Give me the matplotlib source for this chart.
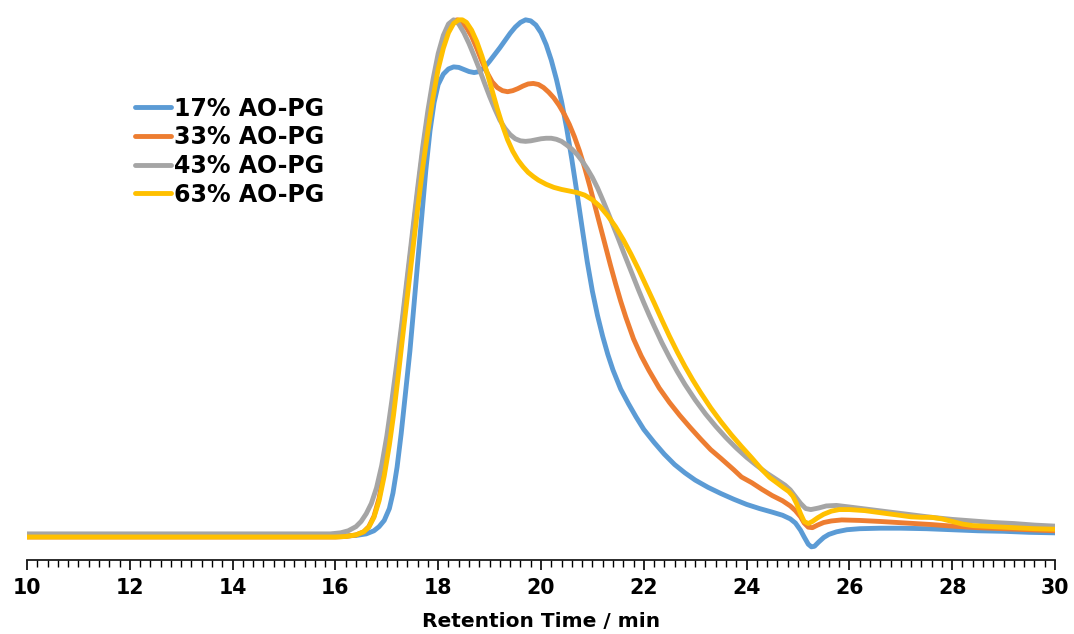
import matplotlib
matplotlib.use("Agg")
import matplotlib.pyplot as plt
from matplotlib.ticker import MultipleLocator

plt.rcParams['font.family'] = ['DejaVu Sans']

# Retention time (min) and normalised detector response for each sample
t_17 = [10, 16.2, 16.4, 16.6, 16.75, 16.85, 16.95, 17.05, 17.12, 17.2, 17.28, 17.36,
        17.45, 17.53, 17.6, 17.68, 17.76, 17.84, 17.92, 18.0, 18.1, 18.2, 18.3, 18.4,
        18.5, 18.6, 18.7, 18.8, 18.9, 19.0, 19.1, 19.2, 19.3, 19.4, 19.5, 19.6, 19.7,
        19.8, 19.9, 20.0, 20.1, 20.2, 20.3, 20.4, 20.5, 20.6, 20.7, 20.8, 20.9, 21.0,
        21.1, 21.2, 21.3, 21.4, 21.55, 21.7, 21.85, 22.0, 22.2, 22.4, 22.6, 22.8,
        23.0, 23.25, 23.5, 23.75, 24.0, 24.25, 24.5, 24.7, 24.85, 24.95, 25.05, 25.12,
        25.2, 25.26, 25.32, 25.4, 25.5, 25.6, 25.75, 25.95, 26.2, 26.6, 27.0, 27.5,
        28.0, 28.5, 29.0, 29.5, 30.0]
y_17 = [0.2, 0.2, 0.3, 0.6, 1.2, 2.0, 3.2, 5.5, 8.5, 13.5, 20.0, 27.5,
        36.0, 45.0, 53.0, 62.0, 71.0, 78.5, 84.0, 87.5, 89.5, 90.5, 90.9, 90.8,
        90.4, 90.0, 89.8, 90.0, 90.8, 92.0, 93.3, 94.6, 96.0, 97.4, 98.6, 99.5, 100.0,
        99.8, 99.0, 97.5, 95.2, 92.2, 88.5, 84.2, 79.0, 73.0, 66.5, 59.8, 53.2, 47.5,
        42.8, 38.8, 35.3, 32.3, 28.6, 25.8, 23.2, 20.8, 18.3, 16.0, 14.0, 12.4,
        11.0, 9.6, 8.4, 7.3, 6.3, 5.5, 4.8, 4.2, 3.5, 2.7, 1.3, 0.0,
        -1.4, -1.9, -1.8, -1.0, -0.1, 0.5, 1.0, 1.4, 1.6, 1.7, 1.7, 1.6,
        1.4, 1.2, 1.1, 0.9, 0.8]

t_33 = [10, 16.0, 16.2, 16.4, 16.55, 16.65, 16.75, 16.85, 16.95, 17.05, 17.13, 17.22,
        17.3, 17.4, 17.5, 17.6, 17.7, 17.8, 17.9, 18.0, 18.1, 18.2, 18.3, 18.37,
        18.45, 18.55, 18.65, 18.75, 18.85, 18.95, 19.05, 19.15, 19.25, 19.35, 19.45,
        19.55, 19.65, 19.75, 19.85, 19.95, 20.05, 20.15, 20.25, 20.35, 20.45, 20.55,
        20.65, 20.75, 20.85, 20.95, 21.05, 21.15, 21.25, 21.35, 21.45, 21.55, 21.65,
        21.8, 21.95, 22.1, 22.3, 22.5, 22.7, 22.9, 23.1, 23.3, 23.5, 23.75, 23.9,
        24.1, 24.3, 24.5, 24.7, 24.85, 24.95, 25.05, 25.12, 25.2, 25.28, 25.38, 25.5,
        25.65, 25.85, 26.2, 26.6, 27.1, 27.6, 28.0, 28.5, 29.0, 29.5, 30.0]
y_33 = [0.0, 0.0, 0.1, 0.4, 1.0, 2.0, 4.0, 7.5, 13.0, 20.0, 26.5, 34.0,
        41.0, 49.5, 58.0, 66.5, 74.5, 81.5, 87.5, 92.5, 96.0, 98.5, 99.8, 100.0,
        99.6, 98.5, 96.8, 94.5, 92.0, 89.8, 88.0, 86.9, 86.3, 86.1, 86.3,
        86.7, 87.2, 87.6, 87.7, 87.5, 86.9, 86.0, 84.9, 83.5, 81.8, 79.8,
        77.4, 74.6, 71.4, 67.8, 64.0, 60.2, 56.4, 52.6, 49.0, 45.6, 42.5,
        38.3, 35.0, 32.2, 28.8, 26.0, 23.5, 21.2, 19.0, 16.9, 15.2, 13.0, 11.6,
        10.5, 9.2, 8.0, 7.0, 6.0, 5.1, 3.9, 2.7, 1.9, 1.8, 2.3, 2.8,
        3.1, 3.3, 3.2, 3.0, 2.7, 2.4, 2.1, 1.8, 1.6, 1.4, 1.2]

t_43 = [10, 15.9, 16.1, 16.25, 16.4, 16.5, 16.6, 16.7, 16.8, 16.9, 17.0, 17.1, 17.2,
        17.3, 17.4, 17.5, 17.6, 17.7, 17.8, 17.9, 18.0, 18.1, 18.2, 18.3, 18.4, 18.5,
        18.6, 18.7, 18.8, 18.9, 19.0, 19.1, 19.2, 19.3, 19.4, 19.5, 19.6, 19.7, 19.8,
        19.9, 20.0, 20.1, 20.2, 20.3, 20.4, 20.5, 20.6, 20.7, 20.8, 20.9, 21.0, 21.1,
        21.2, 21.3, 21.4, 21.5, 21.6, 21.7, 21.8, 21.9, 22.0, 22.1, 22.2, 22.35, 22.5,
        22.65, 22.8, 23.0, 23.2, 23.4, 23.6, 23.8, 24.0, 24.2, 24.4, 24.6, 24.75,
        24.85, 24.95, 25.05, 25.15, 25.25, 25.4, 25.55, 25.75, 26.0, 26.4, 26.8,
        27.2, 27.6, 28.0, 28.4, 28.8, 29.2, 29.6, 30.0]
y_43 = [0.6, 0.6, 0.8, 1.2, 2.0, 3.0, 4.5, 6.5, 9.5, 13.8, 19.5, 26.5, 34.0,
        42.0, 50.5, 59.0, 67.5, 75.5, 82.5, 88.5, 93.5, 97.0, 99.2, 100.0, 99.2, 97.5,
        95.4, 93.0, 90.5, 87.8, 85.2, 82.8, 80.6, 79.0, 77.8, 77.0, 76.6, 76.5, 76.6,
        76.8, 77.0, 77.1, 77.1, 76.9, 76.5, 75.8, 75.0, 74.0, 72.7, 71.2, 69.5, 67.5,
        65.2, 62.8, 60.3, 57.8, 55.2, 52.7, 50.2, 47.7, 45.3, 43.0, 40.8, 37.6, 34.7,
        32.0, 29.5, 26.5, 23.8, 21.4, 19.2, 17.2, 15.4, 13.8, 12.3, 11.0, 10.0,
        9.1, 7.8, 6.5, 5.5, 5.3, 5.6, 6.0, 6.1, 5.8, 5.3, 4.8,
        4.3, 3.8, 3.4, 3.1, 2.8, 2.6, 2.3, 2.1]

t_63 = [10, 16.0, 16.2, 16.4, 16.55, 16.65, 16.75, 16.85, 16.95, 17.05, 17.13, 17.22,
        17.3, 17.4, 17.5, 17.6, 17.7, 17.8, 17.9, 18.0, 18.1, 18.2, 18.3, 18.4, 18.47,
        18.55, 18.65, 18.75, 18.85, 18.95, 19.05, 19.15, 19.25, 19.35, 19.45, 19.55,
        19.65, 19.75, 19.85, 19.95, 20.1, 20.25, 20.4, 20.55, 20.7, 20.85, 21.0, 21.15,
        21.3, 21.45, 21.6, 21.75, 21.9, 22.05, 22.2, 22.35, 22.5, 22.65, 22.8, 22.95,
        23.1, 23.3, 23.5, 23.7, 23.9, 24.1, 24.3, 24.45, 24.6, 24.72, 24.82, 24.9,
        24.97, 25.05, 25.12, 25.2, 25.28, 25.38, 25.5, 25.65, 25.8, 26.0, 26.3, 26.6,
        26.9, 27.2, 27.4, 27.6, 27.8, 28.0, 28.2, 28.4, 28.8, 29.2, 29.6, 30.0]
y_63 = [0.0, 0.0, 0.1, 0.4, 1.0, 1.9, 3.8, 7.0, 11.8, 17.8, 23.5, 31.0,
        38.0, 46.5, 55.0, 63.5, 71.5, 78.5, 85.0, 90.5, 94.5, 97.5, 99.3, 100.0, 100.0,
        99.5, 98.0, 95.8, 93.0, 89.8, 86.3, 82.8, 79.6, 76.8, 74.6, 72.9,
        71.6, 70.5, 69.7, 69.0, 68.2, 67.6, 67.2, 66.9, 66.6, 66.1, 65.2, 63.9,
        62.1, 60.0, 57.5, 54.7, 51.7, 48.5, 45.3, 42.0, 38.8, 35.8, 33.0, 30.4,
        28.0, 25.0, 22.3, 19.8, 17.5, 15.3, 13.0, 11.5, 10.4, 9.5, 8.8, 7.9,
        6.5, 4.5, 3.0, 2.6, 3.0, 3.7, 4.4, 5.0, 5.3, 5.3, 5.1, 4.7,
        4.3, 3.9, 3.8, 3.8, 3.5, 3.0, 2.5, 2.2, 2.0, 1.8, 1.6, 1.5]

labels = ["17% AO-PG", "33% AO-PG", "43% AO-PG", "63% AO-PG"]
colors = ["#5B9BD5", "#ED7D31", "#A5A5A5", "#FFC000"]
series = [(t_17, y_17), (t_33, y_33), (t_43, y_43), (t_63, y_63)]

W, H = 1074, 634
fig = plt.figure(figsize=(W / 100, H / 100), dpi=100)
ax = fig.add_axes([27 / W, (H - 560) / H, (1055 - 27) / W, 550 / H])

for (t, y), c, lab in zip(series, colors, labels):
    ax.plot(t, y, color=c, lw=3.5, label=lab, solid_joinstyle="round",
            solid_capstyle="round")

ax.set_xlim(10, 30)
ax.set_ylim(-4.45, 101.9)
for side in ("left", "right", "top"):
    ax.spines[side].set_visible(False)
ax.spines["bottom"].set_linewidth(1.3)
ax.spines["bottom"].set_color("#1a1a1a")
ax.set_yticks([])
ax.xaxis.set_major_locator(MultipleLocator(2))
ax.xaxis.set_minor_locator(MultipleLocator(0.2))
ax.tick_params(axis="x", which="major", direction="out", length=7, width=1.2,
               pad=6, labelsize=14.8)
ax.tick_params(axis="x", which="minor", direction="out", length=5, width=1.0)
for lbl in ax.get_xticklabels():
    lbl.set_fontweight("bold")
ax.set_xlabel("Retention Time / min", fontsize=14.5, fontweight="bold",
              labelpad=10)

leg = ax.legend(loc="upper left", bbox_to_anchor=(118 / W, 1 - 80 / H),
                bbox_transform=fig.transFigure, frameon=False,
                prop={"weight": "bold", "size": 17}, handlelength=1.55,
                handletextpad=0.12, labelspacing=0.2, borderpad=0.2)

fig.savefig("out.png", dpi=100)
